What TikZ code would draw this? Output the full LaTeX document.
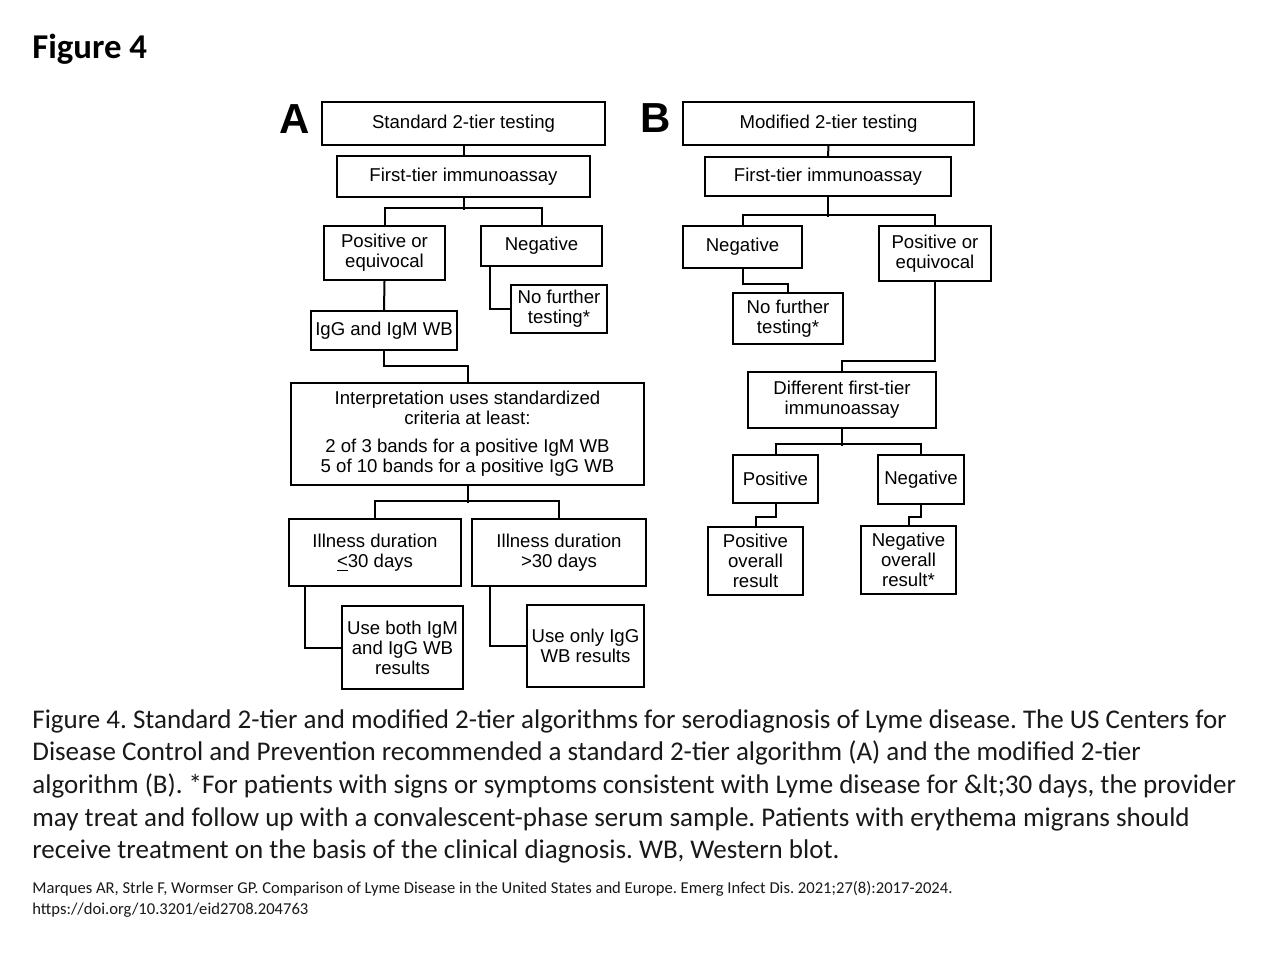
\documentclass[tikz,border=0pt]{standalone}
\usepackage{fontspec}
\setmainfont{Liberation Sans}
\newfontfamily\capfont{Carlito}
\frenchspacing
\begin{document}
\begin{tikzpicture}[x=0.5pt,y=-0.5pt,
  box/.style={draw=black, line width=1pt, rectangle, align=center, inner sep=0pt,
    font=\fontsize{9.3}{10}\selectfont, text=black},
  link/.style={draw=black, line width=1pt},
  panel/.style={font=\fontsize{21}{24}\selectfont\bfseries},
  captext/.style={anchor=base west, inner sep=0pt, font=\capfont\fontsize{13.5}{15}\selectfont, text=black!90},
  reftext/.style={anchor=base west, inner sep=0pt, font=\capfont\fontsize{8.3}{9}\selectfont, text=black!90}]
\newcommand\mybox[6]{\node[box, minimum width={(#4-#2)*0.5pt}, minimum height={(#5-#3)*0.5pt}] (#1) at ({(#2+#4)/2},{(#3+#5)/2}) {#6};}
\useasboundingbox[fill=white] (0,0) rectangle (1280,960);
% title
\node[anchor=base west, inner sep=0pt, font=\capfont\fontsize{17.4}{19}\selectfont\bfseries] (title) at (32,58) {Figure 4};
% panel labels
\node[panel] (labA) at (295,119) {A};
\node[panel] (labB) at (656,118) {B};
% ---- Panel A ----
\mybox{A0}{322}{102}{605}{145}{Standard 2-tier testing}
\mybox{A1}{337}{156}{590}{197}{First-tier immunoassay}
\mybox{Apos}{324}{226}{445}{280}{Positive or\\equivocal}
\mybox{Aneg}{481}{226}{602}{266}{Negative}
\mybox{Anf}{511}{285}{607}{333}{No further\\testing*}
\mybox{Aig}{311}{311}{457}{350}{IgG and IgM WB}
\mybox{Aint}{291}{383}{644}{485}{Interpretation uses standardized\\criteria at least:\\[4pt]2 of 3 bands for a positive IgM WB\\5 of 10 bands for a positive IgG WB}
\mybox{Ail1}{289}{519}{461}{586}{Illness duration\\\underline{<}30 days}
\mybox{Ail2}{472}{519}{646}{586}{Illness duration\\>30 days}
\mybox{Aub}{342}{606}{463}{689}{Use both IgM\\and IgG WB\\results}
\mybox{Auo}{527}{605}{644}{687}{Use only IgG\\WB results}
\draw[link] (A0.south) -- (A1.north);
\draw[link] (A1.south) -- ++(0,12);
\draw[link] (Apos.north) -- ++(0,-17) -| (Aneg.north);
\draw[link] ([xshift=5pt]Aneg.south west) |- (Anf.west);
\draw[link] (Apos.south) -- (Aig.north);
\draw[link] (Aig.south) -- ++(0,15) -| (Aint.north);
\draw[link] (Aint.south) -- ++(0,17);
\draw[link] (Ail1.north) -- ++(0,-17) -| (Ail2.north);
\draw[link] ([xshift=8.5pt]Ail1.south west) |- (Aub.west);
\draw[link] ([xshift=9.5pt]Ail2.south west) |- (Auo.west);
% ---- Panel B ----
\mybox{B0}{683}{102}{974}{145}{Modified 2-tier testing}
\mybox{B1}{705}{157}{951}{196}{First-tier immunoassay}
\mybox{Bneg}{683}{226}{802}{268}{Negative}
\mybox{Bpos}{879}{226}{991}{281}{Positive or\\equivocal}
\mybox{Bnf}{733}{293}{843}{344}{No further\\testing*}
\mybox{Bdiff}{748}{372}{936}{428}{Different first-tier\\immunoassay}
\mybox{Bp}{733}{455}{818}{503}{Positive}
\mybox{Bn}{878}{455}{964}{504}{Negative}
\mybox{Bpo}{708}{527}{803}{595}{Positive\\overall\\result}
\mybox{Bno}{861}{526}{956}{594}{Negative\\overall\\result*}
\draw[link] (B0.south) -- (B1.north);
\draw[link] (B1.south) -- ++(0,20);
\draw[link] (Bneg.north) -- ++(0,-10) -| (Bpos.north);
\draw[link] (Bneg.south) -- ++(0,15) -| (Bnf.north);
\draw[link] (Bdiff.north) -- ++(0,-10) -| (Bpos.south);
\draw[link] (Bdiff.south) -- ++(0,17);
\draw[link] (Bp.north) -- ++(0,-10) -| (Bn.north);
\draw[link] (Bp.south) -- ++(0,13) -| (Bpo.north);
\draw[link] (Bn.south) -- ++(0,12) -| (Bno.north);
% ---- caption ----
\node[captext] (c1) at (32,728) {Figure 4. Standard 2-tier and modified 2-tier algorithms for serodiagnosis of Lyme disease. The US Centers for};
\node[captext] (c2) at (32,760) {Disease Control and Prevention recommended a standard 2-tier algorithm (A) and the modified 2-tier};
\node[captext] (c3) at (32,793) {algorithm (B). *For patients with signs or symptoms consistent with Lyme disease for \&lt;30 days, the provider};
\node[captext] (c4) at (32,826) {may treat and follow up with a convalescent-phase serum sample. Patients with erythema migrans should};
\node[captext] (c5) at (32,858) {receive treatment on the basis of the clinical diagnosis. WB, Western blot.};
\node[reftext] (r1) at (32,893) {Marques AR, Strle F, Wormser GP. Comparison of Lyme Disease in the United States and Europe. Emerg Infect Dis. 2021;27(8):2017-2024.};
\node[reftext] (r2) at (32,914) {https://doi.org/10.3201/eid2708.204763};
\end{tikzpicture}
\end{document}
